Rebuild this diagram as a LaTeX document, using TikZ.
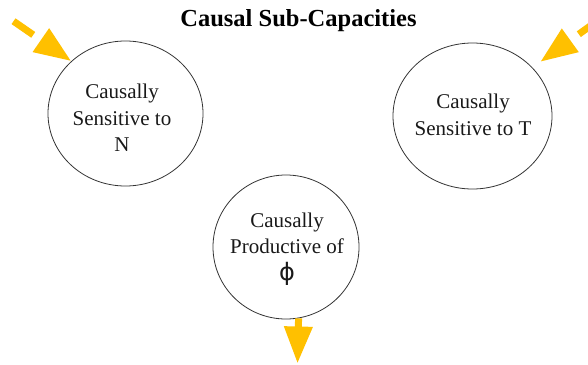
\documentclass[tikz,border=0pt]{standalone}
\usepackage{fontspec}
\setmainfont{Liberation Serif}
\newfontfamily\phifont{DejaVu Sans}
\usetikzlibrary{shapes.geometric,arrows.meta}
\definecolor{amber}{HTML}{FFC000}
\begin{document}
\begin{tikzpicture}[x=1pt,y=-1pt,
  capacity/.style={ellipse,draw=black!80,line width=0.8pt,inner sep=0pt},
  captext/.style={align=center,text=black!90,font=\fontsize{21}{26.5}\selectfont},
  flow/.style={draw=amber,line width=7pt,
    -{Triangle[length=37pt,width=27pt,fill=amber]}},
  dashedflow/.style={flow,dash pattern=on 24pt off 11pt}
]
\useasboundingbox (0,0) rectangle (588,364);
\clip (0,0) rectangle (588,364);

% title
\node[font=\fontsize{24.5}{28}\selectfont\bfseries] (title) at (298.5,21) {Causal Sub-Capacities};

% the three sub-capacities
\node[capacity,minimum width=155pt,minimum height=145pt] (sensN) at (125.5,113.5) {};
\node[capacity,minimum width=159pt,minimum height=146pt] (sensT) at (472.5,116) {};
\node[capacity,minimum width=146pt,minimum height=144pt] (prod)  at (286,247) {};

\node[captext] (sensNtext) at (122,118) {Causally\\Sensitive to\\N};
\node[captext] (sensTtext) at (473,115) {Causally\\Sensitive to T};
\node[captext] (prodtext)  at (287,249) {Causally\\Productive of\\{\phifont\fontsize{24}{26.5}\selectfont ϕ}};

% incoming and outgoing influences
\coordinate (inN) at (13.5,21.2);
\coordinate (inT) at (598.3,20.2);
\coordinate (outP) at (297.5,363.5);

\draw[dashedflow] (inN) -- (sensN.136);
\draw[dashedflow,shorten >=9.6pt] (inT) -- (sensT.39.6);
\draw[flow] (prod.-80.8) -- (outP);
\end{tikzpicture}
\end{document}
